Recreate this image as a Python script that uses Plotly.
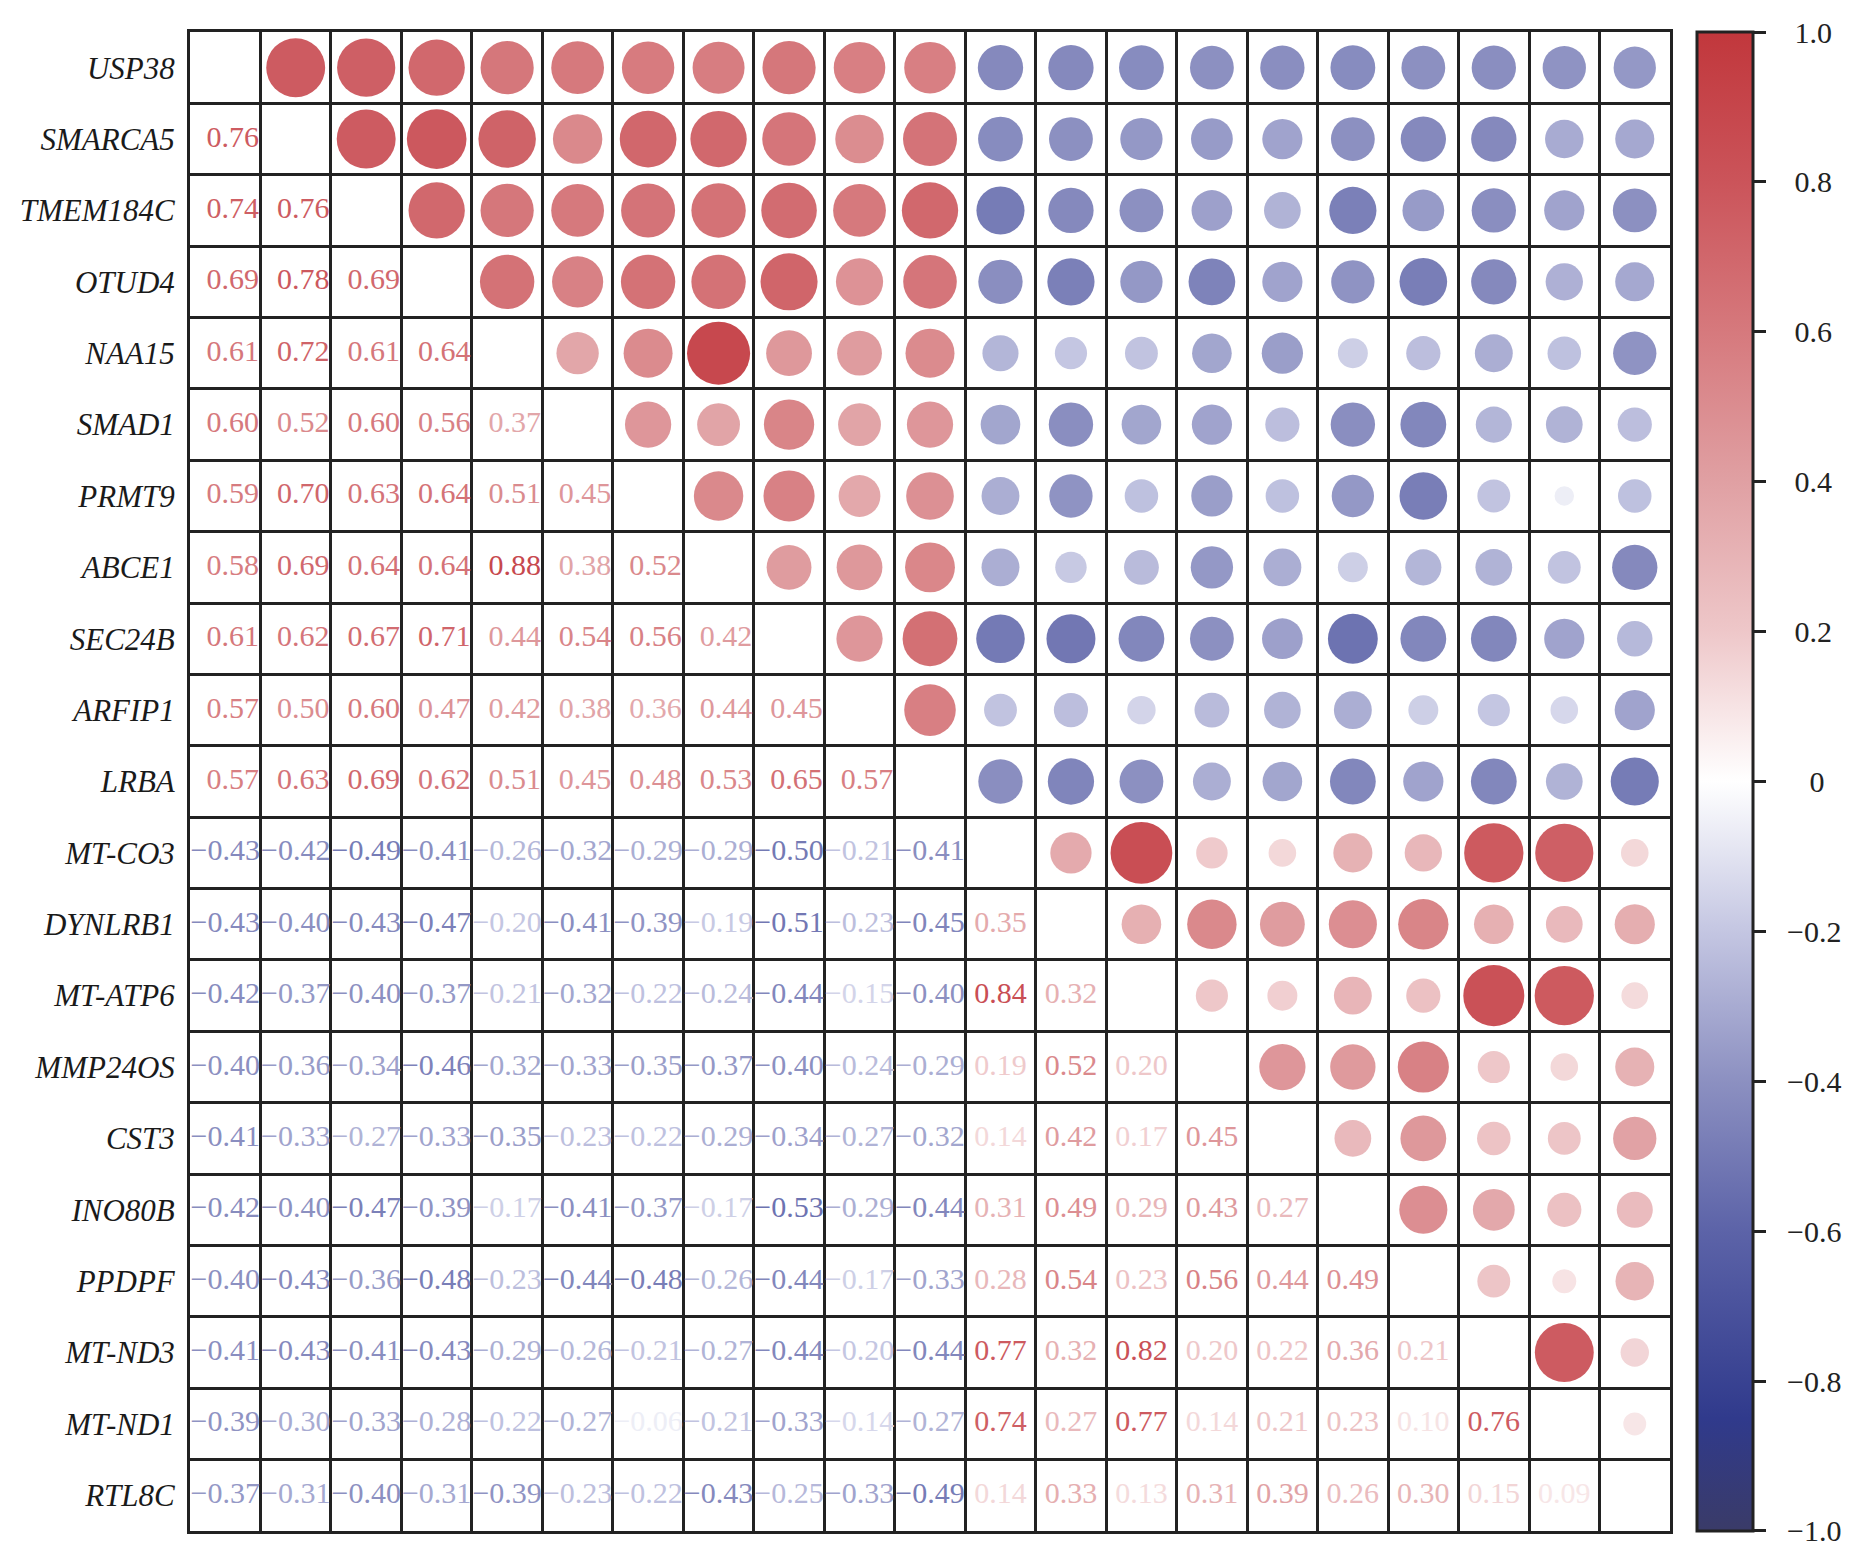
import numpy as np
import plotly.graph_objects as go

# gene order (top to bottom / left to right)
genes = ["USP38", "SMARCA5", "TMEM184C", "OTUD4", "NAA15", "SMAD1", "PRMT9",
         "ABCE1", "SEC24B", "ARFIP1", "LRBA", "MT-CO3", "DYNLRB1", "MT-ATP6",
         "MMP24OS", "CST3", "INO80B", "PPDPF", "MT-ND3", "MT-ND1", "RTL8C"]

# lower triangle of the correlation matrix, row by row
lower = [
    [],
    [0.76],
    [0.74, 0.76],
    [0.69, 0.78, 0.69],
    [0.61, 0.72, 0.61, 0.64],
    [0.60, 0.52, 0.60, 0.56, 0.37],
    [0.59, 0.70, 0.63, 0.64, 0.51, 0.45],
    [0.58, 0.69, 0.64, 0.64, 0.88, 0.38, 0.52],
    [0.61, 0.62, 0.67, 0.71, 0.44, 0.54, 0.56, 0.42],
    [0.57, 0.50, 0.60, 0.47, 0.42, 0.38, 0.36, 0.44, 0.45],
    [0.57, 0.63, 0.69, 0.62, 0.51, 0.45, 0.48, 0.53, 0.65, 0.57],
    [-0.43, -0.42, -0.49, -0.41, -0.26, -0.32, -0.29, -0.29, -0.50, -0.21, -0.41],
    [-0.43, -0.40, -0.43, -0.47, -0.20, -0.41, -0.39, -0.19, -0.51, -0.23, -0.45, 0.35],
    [-0.42, -0.37, -0.40, -0.37, -0.21, -0.32, -0.22, -0.24, -0.44, -0.15, -0.40, 0.84, 0.32],
    [-0.40, -0.36, -0.34, -0.46, -0.32, -0.33, -0.35, -0.37, -0.40, -0.24, -0.29, 0.19, 0.52, 0.20],
    [-0.41, -0.33, -0.27, -0.33, -0.35, -0.23, -0.22, -0.29, -0.34, -0.27, -0.32, 0.14, 0.42, 0.17, 0.45],
    [-0.42, -0.40, -0.47, -0.39, -0.17, -0.41, -0.37, -0.17, -0.53, -0.29, -0.44, 0.31, 0.49, 0.29, 0.43, 0.27],
    [-0.40, -0.43, -0.36, -0.48, -0.23, -0.44, -0.48, -0.26, -0.44, -0.17, -0.33, 0.28, 0.54, 0.23, 0.56, 0.44, 0.49],
    [-0.41, -0.43, -0.41, -0.43, -0.29, -0.26, -0.21, -0.27, -0.44, -0.20, -0.44, 0.77, 0.32, 0.82, 0.20, 0.22, 0.36, 0.21],
    [-0.39, -0.30, -0.33, -0.28, -0.22, -0.27, -0.06, -0.21, -0.33, -0.14, -0.27, 0.74, 0.27, 0.77, 0.14, 0.21, 0.23, 0.10, 0.76],
    [-0.37, -0.31, -0.40, -0.31, -0.39, -0.23, -0.22, -0.43, -0.25, -0.33, -0.49, 0.14, 0.33, 0.13, 0.31, 0.39, 0.26, 0.30, 0.15, 0.09],
]

# colour bar ticks (end ticks nudged inside so plotly keeps both labels)
cb_ticks = [-0.9999, -0.8, -0.6, -0.4, -0.2, 0, 0.2, 0.4, 0.6, 0.8, 0.9999]
cb_labels = ["\u22121.0", "\u22120.8", "\u22120.6", "\u22120.4", "\u22120.2", "0",
             "0.2", "0.4", "0.6", "0.8", "1.0"]

# blue - white - red palette
stops = [(-1.0, "#3a3b68"), (-0.85, "#303a8c"), (-0.6, "#5c63a8"), (-0.4, "#8c90c1"),
         (-0.2, "#c4c6e2"), (0.0, "#ffffff"), (0.2, "#eec7c9"), (0.4, "#e0a0a3"),
         (0.6, "#d6797d"), (0.8, "#cb545a"), (1.0, "#c1373c")]
colorscale = [[(v + 1) / 2, c] for v, c in stops]


def hex2rgb(h):
    return [int(h[i:i + 2], 16) for i in (1, 3, 5)]


def value_color(v):
    vals = [s[0] for s in stops]
    rgbs = np.array([hex2rgb(s[1]) for s in stops], dtype=float)
    rgb = [np.interp(v, vals, rgbs[:, k]) for k in range(3)]
    return "rgb(%d,%d,%d)" % tuple(round(c) for c in rgb)


def fmt(v, col):
    s = "%.2f" % abs(v)
    if v < 0:
        return "\u2212" + s
    # columns that also hold negatives keep room for the sign
    return ("\u00a0\u00a0" + s) if col < 11 else s


def pad_label(s):
    # roughly centre the colour bar labels, as in the original
    extra = 2 + (0 if s.startswith("\u2212") else (3 if s == "0" else 1))
    return "\u00a0" * extra + s


n = len(genes)
corr = np.eye(n)
for i, row in enumerate(lower):
    for j, v in enumerate(row):
        corr[i, j] = v
        corr[j, i] = v

# upper triangle -> circles, lower triangle -> numbers
cx, cy, cv = [], [], []
tx, ty, tv = [], [], []
for i in range(n):
    for j in range(n):
        if j > i:
            cx.append(j); cy.append(i); cv.append(corr[i, j])
        elif j < i:
            tx.append(j); ty.append(i); tv.append(corr[i, j])

# circle area grows with |r|
sizes = [4 + 63 * np.sqrt(abs(v)) for v in cv]

fig = go.Figure()
fig.add_trace(go.Scatter(
    x=cx, y=cy, mode="markers",
    marker=dict(size=sizes, color=cv, colorscale=colorscale, cmin=-1, cmax=1,
                line=dict(width=0), opacity=1,
                showscale=True,
                colorbar=dict(
                    thickness=56, thicknessmode="pixels",
                    len=1, lenmode="fraction", y=0.5, yanchor="middle",
                    x=1.018, xanchor="left", xpad=0, ypad=0,
                    outlinewidth=3, outlinecolor="#222222",
                    tickmode="array", tickvals=cb_ticks,
                    ticktext=[pad_label(s) for s in cb_labels],
                    ticks="outside", ticklen=12, tickwidth=3, tickcolor="#222222",
                    tickfont=dict(family="Liberation Serif", size=30, color="#222222"),
                )),
    hoverinfo="skip", showlegend=False,
))
fig.add_trace(go.Scatter(
    x=tx, y=ty, mode="text",
    text=[fmt(v, c) for v, c in zip(tv, tx)],
    textposition="middle center",
    textfont=dict(family="Liberation Serif", size=30, color=[value_color(v) for v in tv]),
    hoverinfo="skip", showlegend=False,
))

grid = dict(tickmode="linear", tick0=0.5, dtick=1, showgrid=True,
            gridcolor="#222222", gridwidth=3, ticks="")

fig.update_xaxes(range=[-0.5, n - 0.5], showgrid=False, zeroline=False,
                 showticklabels=False, ticks="",
                 showline=True, mirror=True, linecolor="#222222", linewidth=3,
                 minor=grid)
fig.update_yaxes(range=[n - 0.5, -0.5], showgrid=False, zeroline=False,
                 tickmode="array", tickvals=list(range(n)), ticktext=genes,
                 ticks="", ticklabelstandoff=6,
                 tickfont=dict(family="Liberation Serif", size=31, color="#1a1a1a",
                               style="italic"),
                 showline=True, mirror=True, linecolor="#222222", linewidth=3,
                 minor=grid)

fig.update_layout(
    width=1855, height=1548,
    margin=dict(l=162, r=193, t=24, b=25),
    plot_bgcolor="white", paper_bgcolor="white",
)

fig.write_html("out.html")
